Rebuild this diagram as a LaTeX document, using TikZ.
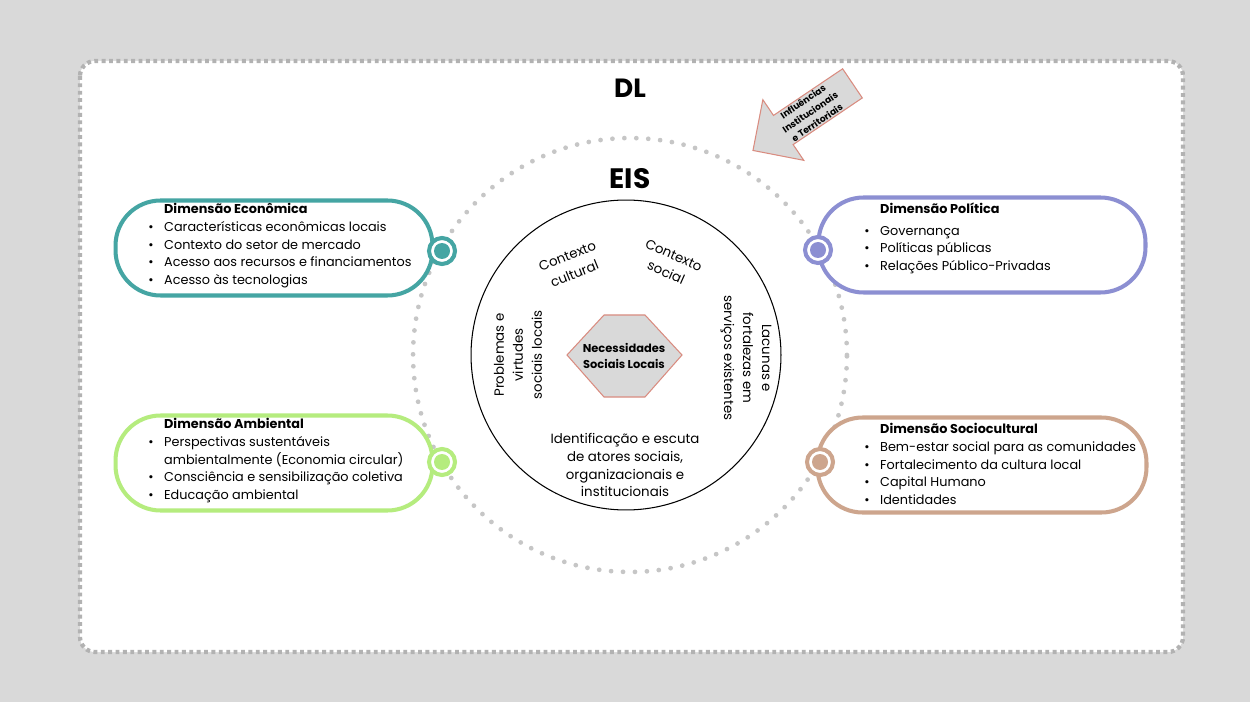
\documentclass[tikz,border=0pt]{standalone}
\usepackage{fontspec}
\setmainfont{Poppins}
\usetikzlibrary{shapes,arrows,calc}
\definecolor{bggrey}{HTML}{D9D9D9}
\definecolor{ecocol}{HTML}{45A5A3}
\definecolor{polcol}{HTML}{8C8FD2}
\definecolor{ambcol}{HTML}{B5EC7E}
\definecolor{soccol}{HTML}{CDA58D}
\definecolor{hexcol}{HTML}{D98C80}
\newcommand{\itm}{\makebox[9pt][l]{\textbullet}}

\begin{document}
\begin{tikzpicture}[x=0.02cm,y=-0.02cm,
	dimbox/.style={draw=#1,line width=2.3pt,rounded corners=0.9cm,fill=white,minimum height=1.9cm},
	ring/.style={draw=#1,line width=2.3pt,circle,fill=white,minimum size=0.52cm,inner sep=0pt,path picture={\fill[#1] (path picture bounding box.center) circle (0.16cm);}},
	dimtext/.style={anchor=north west,align=left,inner sep=0pt,font=\fontsize{7.3}{10.1}\selectfont},
	eistext/.style={align=center,inner sep=0pt,font=\fontsize{7.6}{10.8}\selectfont}]
		\fill[bggrey] (0,0) rectangle (1250,702);
		\useasboundingbox (0,0) rectangle (1250,702);
		\draw[fill=white,draw=gray!60,line width=2.4pt,dash pattern=on 2.2pt off 2pt,rounded corners=0.3cm] (80,61) rectangle (1183,652);
		\draw[gray!45,line width=2.7pt,line cap=round,dash pattern=on 0pt off 6.8pt] (630,355) circle (4.34cm);
		\node (dl)   [font=\bfseries\fontsize{15}{18}\selectfont] at (630,88) {DL};
		\node (eisl) [font=\bfseries\fontsize{16}{18}\selectfont] at (630,179) {EIS};
		\node (infl) [single arrow,shape border rotate=180,rotate=34,draw=hexcol,fill=bggrey,line width=0.6pt,minimum height=2.4cm,single arrow head extend=0.38cm,inner sep=0.4pt,align=center,font=\bfseries\fontsize{5.2}{7.2}\selectfont] at (810,112) {Influências\\Institucionais\\e Territoriais};
		\node (eis)  [draw,circle,minimum size=6.2cm,line width=0.6pt] at (626,355) {};
		\filldraw[fill=bggrey,draw=hexcol,line width=0.6pt] (567,355) -- (604,315) -- (645,315) -- (682,355) -- (645,397) -- (604,397) -- cycle;
		\node (need) [font=\bfseries\fontsize{6.5}{9}\selectfont,align=center] at (624,356) {Necessidades\\Sociais Locais};
		\node (ctxcult) [eistext,rotate=22]  at (571,265) {Contexto\\cultural};
		\node (ctxsoc)  [eistext,rotate=-24] at (670,264) {Contexto\\social};
		\node (prob)    [eistext,rotate=90]  at (518,355) {Problemas e\\virtudes\\sociais locais};
		\node (lac)     [eistext,rotate=-90] at (746,358) {Lacunas e\\fortalezas em\\serviços existentes};
		\node (ident)   [eistext,font=\fontsize{7.6}{10.2}\selectfont] at (625,465) {Identificação e escuta\\de atores sociais,\\organizacionais e\\institucionais};
		\node (eco) [dimbox=ecocol,minimum width=6.34cm] at (274,248) {};
		\node (pol) [dimbox=polcol,minimum width=6.54cm] at (982,245) {};
		\node (amb) [dimbox=ambcol,minimum width=6.34cm] at (274,463) {};
		\node (soc) [dimbox=soccol,minimum width=6.58cm] at (982,465) {};
		\node (ecoring) [ring=ecocol] at (442,251) {};
		\node (polring) [ring=polcol] at (818,250) {};
		\node (ambring) [ring=ambcol] at (442,462) {};
		\node (socring) [ring=soccol] at (820,462) {};
		\node (ecotxt) [dimtext] at (148,203) {\hspace*{9pt}\textbf{Dimensão Econômica}\\\itm Características econômicas locais\\\itm Contexto do setor de mercado\\\itm Acesso aos recursos e financiamentos\\\itm Acesso às tecnologias};
		\node (poltxt) [dimtext] at (864,203) {\hspace*{9pt}\textbf{Dimensão Política}\\[2pt]\itm Governança\\\itm Políticas públicas\\\itm Relações Público-Privadas};
		\node (ambtxt) [dimtext] at (148,418) {\hspace*{9pt}\textbf{Dimensão Ambiental}\\\itm Perspectivas sustentáveis\\\hspace*{9pt}ambientalmente (Economia circular)\\\itm Consciência e sensibilização coletiva\\\itm Educação ambiental};
		\node (soctxt) [dimtext] at (864,423) {\hspace*{9pt}\textbf{Dimensão Sociocultural}\\\itm Bem-estar social para as comunidades\\\itm Fortalecimento da cultura local\\\itm Capital Humano\\\itm Identidades};
	\end{tikzpicture}
\end{document}
